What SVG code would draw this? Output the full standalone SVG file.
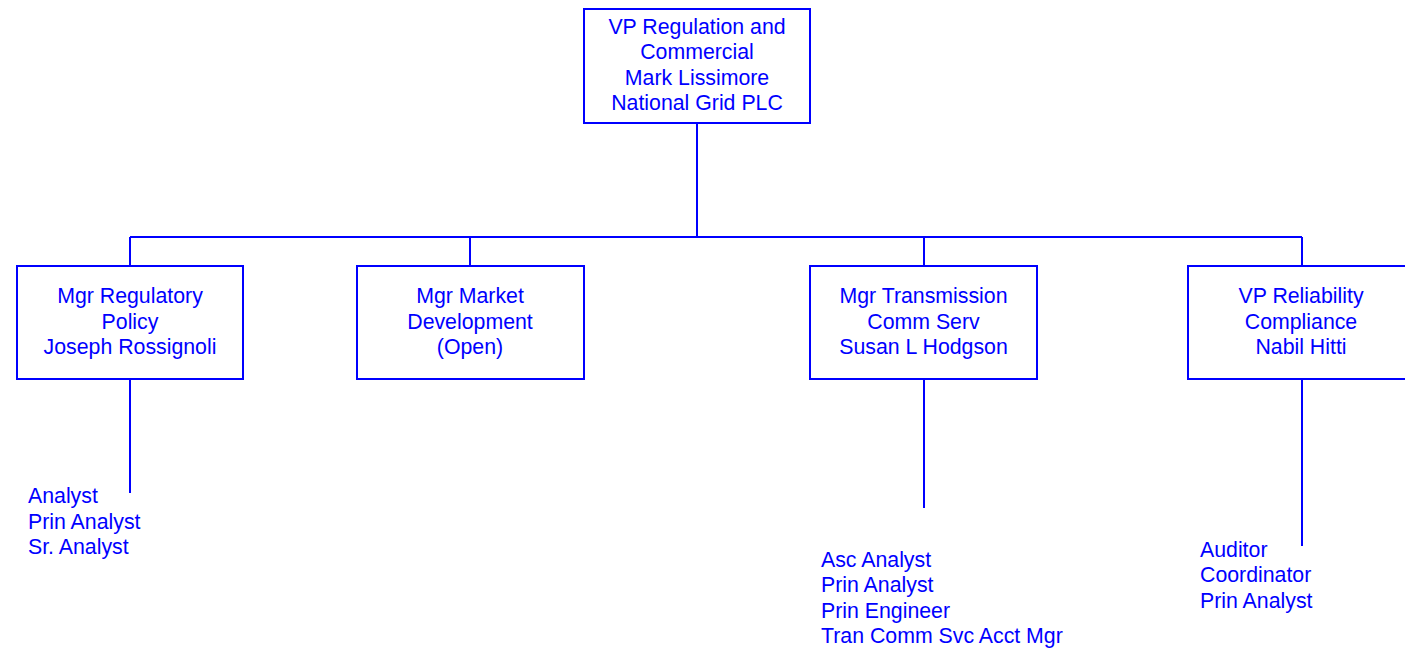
<svg xmlns="http://www.w3.org/2000/svg" width="1405" height="654" viewBox="0 0 1405 654">
<style>
.box{fill:#fff;stroke:#0000ff;stroke-width:2}
.ln{fill:none;stroke:#0000ff;stroke-width:2}
text{font-family:"Liberation Sans",Arial,sans-serif;font-size:21.3px;fill:#0000ff}
.c{text-anchor:middle}
</style>
<rect width="1405" height="654" fill="#fff"/>
<g id="connectors">
<path class="ln" d="M697 123V237M130 237H1302M130 237V266M470 237V266M924 237V266M1302 237V266"/>
<path class="ln" d="M130 379V493M924 379V508M1302 379V546"/>
</g>
<g id="vp">
<rect class="box" x="584" y="9" width="226" height="114"/>
<text class="c" x="697" y="33.5">VP Regulation and</text>
<text class="c" x="697" y="59">Commercial</text>
<text class="c" x="697" y="84.5">Mark Lissimore</text>
<text class="c" x="697" y="110">National Grid PLC</text>
</g>
<g id="regpolicy">
<rect class="box" x="17" y="266" width="226" height="113"/>
<text class="c" x="130" y="303">Mgr Regulatory</text>
<text class="c" x="130" y="328.5">Policy</text>
<text class="c" x="130" y="354">Joseph Rossignoli</text>
</g>
<g id="marketdev">
<rect class="box" x="357" y="266" width="227" height="113"/>
<text class="c" x="470" y="303">Mgr Market</text>
<text class="c" x="470" y="328.5">Development</text>
<text class="c" x="470" y="354">(Open)</text>
</g>
<g id="transcomm">
<rect class="box" x="810" y="266" width="227" height="113"/>
<text class="c" x="923.5" y="303">Mgr Transmission</text>
<text class="c" x="923.5" y="328.5">Comm Serv</text>
<text class="c" x="923.5" y="354">Susan L Hodgson</text>
</g>
<g id="reliability">
<rect class="box" x="1188" y="266" width="226" height="113"/>
<text class="c" x="1301" y="303">VP Reliability</text>
<text class="c" x="1301" y="328.5">Compliance</text>
<text class="c" x="1301" y="354">Nabil Hitti</text>
</g>
<g id="list-regpolicy">
<text x="28" y="503">Analyst</text>
<text x="28" y="528.5">Prin Analyst</text>
<text x="28" y="554">Sr. Analyst</text>
</g>
<g id="list-transcomm">
<text x="821" y="566.5">Asc Analyst</text>
<text x="821" y="592">Prin Analyst</text>
<text x="821" y="617.5">Prin Engineer</text>
<text x="821" y="643">Tran Comm Svc Acct Mgr</text>
</g>
<g id="list-reliability">
<text x="1200" y="556.5">Auditor</text>
<text x="1200" y="582">Coordinator</text>
<text x="1200" y="607.5">Prin Analyst</text>
</g>
</svg>
